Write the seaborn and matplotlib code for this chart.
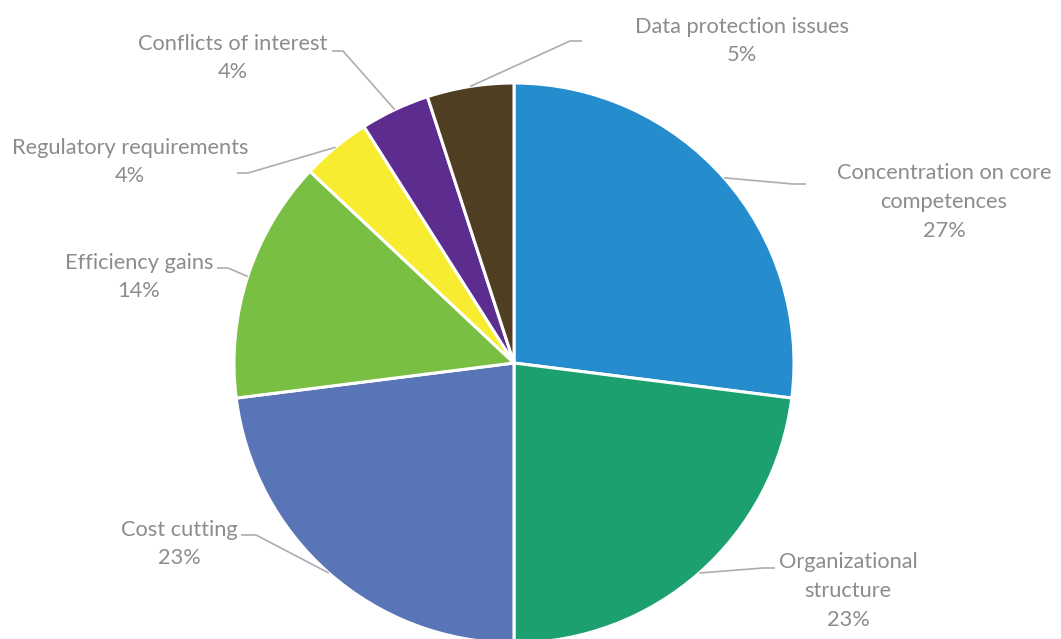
import matplotlib
matplotlib.use("Agg")
import matplotlib.pyplot as plt
import seaborn as sns
import numpy as np

# Reasons given, share of answers in percent
categories = [
    "Concentration on core competences",
    "Organizational structure",
    "Cost cutting",
    "Efficiency gains",
    "Regulatory requirements",
    "Conflicts of interest",
    "Data protection issues",
]
shares = [27, 23, 23, 14, 4, 4, 5]
label_names = [
    "Concentration on core\ncompetences",
    "Organizational\nstructure",
    "Cost cutting",
    "Efficiency gains",
    "Regulatory requirements",
    "Conflicts of interest",
    "Data protection issues",
]
colors = ["#258DCD", "#1DA06F", "#5975B8", "#78BF44", "#F8EC31", "#5C2D8F", "#4F3E22"]

W, H = 1061, 639
sns.set_theme(style="white")
plt.rcParams["font.family"] = ["Lato", "DejaVu Sans"]

fig = plt.figure(figsize=(W / 100, H / 100), dpi=100)
ax = fig.add_axes([0, 0, 1, 1])

cx, cy, R = 514, H - 363, 280
wedges, _ = ax.pie(
    shares,
    colors=colors,
    startangle=90,
    counterclock=False,
    center=(cx, cy),
    radius=R,
    wedgeprops=dict(edgecolor="white", linewidth=2.2),
)
ax.set_xlim(0, W)
ax.set_ylim(0, H)
ax.set_aspect("equal")
ax.axis("off")

# label block centres and leader-line elbows, in top-down pixel units
label_pos = [(944, 202), (848, 591), (179, 544), (139, 277), (130, 162), (233, 58), (742, 41)]
elbows = [
    [(793, 184), (806, 184)],
    [(763, 568), (775, 568)],
    [(256, 535), (241, 535)],
    [(228, 268), (217, 268)],
    [(248, 173), (237, 173)],
    [(343, 51), (332, 51)],
    [(570, 41), (582, 41)],
]

text_color = "#8C8C90"
line_color = "#ADADB1"

for w, name, v, (lx, ly), elb in zip(wedges, label_names, shares, label_pos, elbows):
    mid = np.deg2rad((w.theta1 + w.theta2) / 2)
    sx, sy = cx + R * np.cos(mid), cy + R * np.sin(mid)
    xs = [sx] + [p[0] for p in elb]
    ys = [sy] + [H - p[1] for p in elb]
    ax.plot(xs, ys, color=line_color, lw=1.2, solid_capstyle="butt", zorder=3)
    ax.text(lx, H - ly, f"{name}\n{v}%", ha="center", va="center",
            multialignment="center", fontsize=15.7, color=text_color,
            linespacing=1.56, zorder=4)

fig.savefig("out.png", dpi=100, facecolor="white")
